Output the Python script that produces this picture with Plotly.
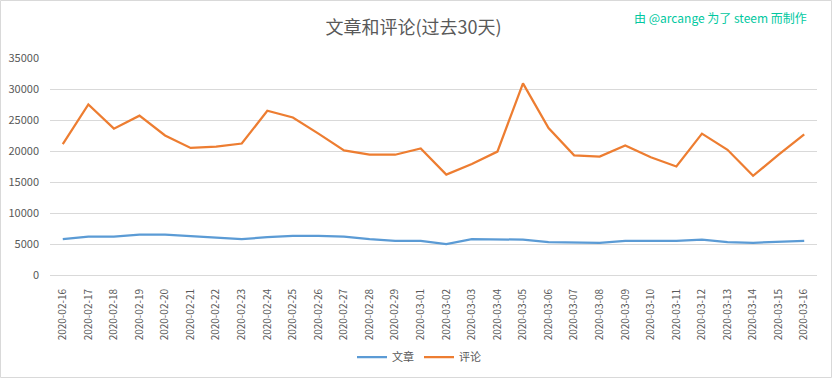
import plotly.graph_objects as go

dates = [
    "2020-02-16", "2020-02-17", "2020-02-18", "2020-02-19", "2020-02-20",
    "2020-02-21", "2020-02-22", "2020-02-23", "2020-02-24", "2020-02-25",
    "2020-02-26", "2020-02-27", "2020-02-28", "2020-02-29", "2020-03-01",
    "2020-03-02", "2020-03-03", "2020-03-04", "2020-03-05", "2020-03-06",
    "2020-03-07", "2020-03-08", "2020-03-09", "2020-03-10", "2020-03-11",
    "2020-03-12", "2020-03-13", "2020-03-14", "2020-03-15", "2020-03-16",
]
posts = [
    5800, 6200, 6200, 6500, 6500, 6300, 6000, 5800, 6100, 6300,
    6300, 6200, 5800, 5500, 5500, 5000, 5800, 5800, 5700, 5300,
    5200, 5200, 5500, 5500, 5500, 5700, 5300, 5200, 5300, 5500,
]
comments = [
    21100, 27500, 23600, 25700, 22500, 20500, 20700, 21200, 26500, 25400,
    22800, 20100, 19400, 19400, 20400, 16200, 17900, 19900, 30900, 23700,
    19300, 19100, 20900, 19000, 17500, 22800, 20200, 16000, 19400, 22700,
]
y_ticks = [0, 5000, 10000, 15000, 20000, 25000, 30000, 35000]
y_tick_labels = [str(v) for v in y_ticks]

FONT = "Noto Sans CJK SC, Microsoft YaHei, sans-serif"
GRAY = "#595959"

W, H = 832, 378
ML, MR, MT, MB = 50, 15, 58, 103
PW, PH = W - ML - MR, H - MT - MB

fig = go.Figure()
fig.add_trace(go.Scatter(x=dates, y=posts, name="文章", mode="lines",
                         line=dict(color="#5B9BD5", width=2.25)))
fig.add_trace(go.Scatter(x=dates, y=comments, name="评论", mode="lines",
                         line=dict(color="#ED7D31", width=2.25)))

def px(x):
    return (x - ML) / PW

def py(y):
    return (H - MB - y) / PH

fig.update_layout(
    width=W, height=H,
    margin=dict(l=ML, r=MR, t=MT, b=MB, autoexpand=False),
    paper_bgcolor="white", plot_bgcolor="white",
    font=dict(family=FONT, color=GRAY),
    title=dict(text="文章和评论(过去30天)", x=0.497, xanchor="center",
               y=1 - 28 / H, yanchor="middle",
               font=dict(size=18, color=GRAY, family=FONT)),
    xaxis=dict(type="category", range=[-0.5, len(dates) - 0.5],
               tickangle=-90, tickfont=dict(size=10, color=GRAY),
               showgrid=False, showline=True, linecolor="#D9D9D9",
               ticks="", ticklabelstandoff=9, zeroline=False,
               automargin=False),
    yaxis=dict(range=[0, 35000], tickvals=y_ticks, ticktext=y_tick_labels,
               tickfont=dict(size=11, color=GRAY),
               showgrid=True, gridcolor="#D9D9D9", gridwidth=1,
               showline=False, zeroline=False, ticks="",
               ticklabelstandoff=10, automargin=False),
    showlegend=True,
    legend=dict(orientation="h", x=px(352), xanchor="left",
                y=py(357), yanchor="middle", itemwidth=30,
                font=dict(size=11, color=GRAY), traceorder="normal"),
    shapes=[dict(type="rect", xref="paper", yref="paper",
                 x0=px(0.5), x1=px(831.5), y0=py(377.5), y1=py(0.5),
                 line=dict(color="#D9D9D9", width=1), layer="below")],
    annotations=[dict(text="由 @arcange 为了 steem 而制作", xref="paper", yref="paper",
                      x=px(809), xanchor="right", y=py(17), yanchor="middle",
                      showarrow=False, font=dict(size=12, color="#00C8A0", family=FONT))],
)

fig.write_html("out.html", config={"displayModeBar": False},
               post_script="document.body.style.margin='0';document.body.style.overflow='hidden';")
